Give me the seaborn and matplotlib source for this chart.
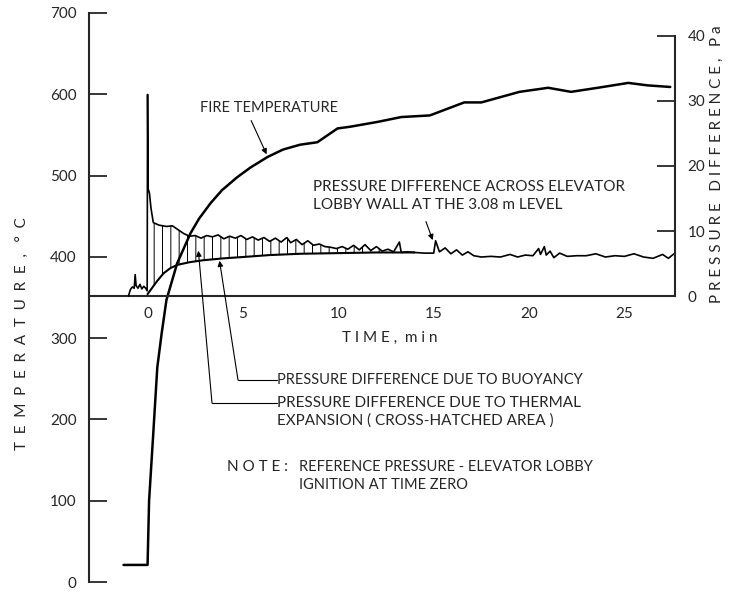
import numpy as np
import pandas as pd
import seaborn as sns
import matplotlib.pyplot as plt
from matplotlib.lines import Line2D

# Seaborn styling
sns.set_style("white")
plt.rcParams['font.family'] = ['Lato', 'DejaVu Sans']
plt.rcParams['hatch.linewidth'] = 0.7

# Fire temperature (left axis, deg C)
fire_time = [-1.26, 0.0, 0.08, 0.3, 0.51, 0.74, 0.99, 1.55, 2.25, 2.7,
             3.3, 3.9, 4.7, 5.4, 6.3, 7.1, 8.0, 8.9, 9.96, 10.6, 12.05, 13.3, 14.8,
             15.7, 16.6, 17.5, 19.5, 21.0, 22.2, 23.6, 25.2, 26.2, 27.4]
fire_temp = [21, 21, 100, 183, 264, 306, 347, 392, 429, 447,
             466, 482, 498, 510, 523, 532, 538, 541, 558, 560, 566, 572, 574,
             582, 590, 590, 603, 608, 603, 608, 614, 611, 609]

# Pressure difference across elevator lobby wall (right axis, Pa)
press_time = [-1.0, -0.9, -0.8, -0.7, -0.65, -0.6, -0.5, -0.4, -0.3, -0.2, -0.1, -0.02,
              0.0, 0.03, 0.1, 0.18, 0.3, 0.6, 1.0, 1.3, 1.6, 1.9, 2.2, 2.5, 2.8,
              3.1, 3.4, 3.7, 4.0, 4.3, 4.6, 4.9, 5.2, 5.5, 5.8, 6.1, 6.4, 6.7, 7.0,
              7.3, 7.5, 7.8, 8.1, 8.4, 8.7, 9.0, 9.3, 9.6, 9.9, 10.2, 10.5, 10.8,
              11.1, 11.4, 11.7, 12.0, 12.3, 12.6, 12.9, 13.2, 13.3, 13.6, 14.0,
              14.5, 15.0, 15.1, 15.3, 15.6, 15.9, 16.2, 16.5, 16.8, 17.1, 17.5,
              18.0, 18.5, 19.0, 19.4, 19.8, 20.2, 20.5, 20.6, 20.8, 20.9, 21.1,
              21.3, 21.6, 22.0, 22.5, 23.0, 23.5, 24.0, 24.5, 25.0, 25.5, 26.0,
              26.5, 27.0, 27.3, 27.6]
press_pa = [0.0, 1.0, 1.4, 1.2, 3.3, 1.6, 1.2, 1.8, 1.1, 1.5, 1.2, 0.8,
            31.0, 16.5, 15.8, 13.5, 11.3, 10.9, 10.7, 10.8, 10.2, 9.6, 9.2, 9.3, 8.9,
            9.3, 9.1, 9.4, 8.8, 9.2, 8.9, 9.3, 8.7, 9.1, 8.6, 9.0, 8.4, 8.9, 8.3,
            9.0, 8.2, 8.7, 7.9, 8.5, 7.8, 8.0, 7.6, 7.5, 7.3, 7.6, 7.2, 7.8,
            7.1, 7.9, 7.0, 7.6, 6.9, 7.2, 6.8, 8.3, 6.7, 6.8, 6.7,
            6.6, 6.6, 8.5, 6.8, 7.4, 6.5, 7.1, 6.3, 6.8, 6.2, 6.0,
            6.1, 6.0, 6.4, 6.0, 6.3, 6.2, 7.3, 6.4, 7.6, 6.3, 6.9,
            5.9, 6.6, 6.1, 6.2, 6.2, 6.5, 6.0, 6.2, 6.1, 6.5, 6.0,
            5.8, 6.4, 5.8, 6.5]

# Pressure difference due to buoyancy (Pa)
buoy_time = [0.0, 0.3, 0.5, 0.84, 1.2, 1.57, 2.2, 2.9, 4.0, 5.0, 6.4, 8.0, 10.0, 12.0, 14.0]
buoy_pa = [0.3, 1.5, 2.3, 3.5, 4.3, 4.8, 5.2, 5.5, 5.8, 6.0, 6.3, 6.5, 6.6, 6.7, 6.7]

time_ticks = [0, 5, 10, 15, 20, 25]
temp_ticks = [0, 100, 200, 300, 400, 500, 600, 700]
press_ticks = [0, 10, 20, 30, 40]

# axis matching: 0 Pa sits at 351.8 C, 1 Pa = 8 C
T0, C_PER_PA = 351.8, 8.0

W, H = 729, 593
fig = plt.figure(figsize=(W / 100, H / 100), dpi=100)


def fxy(px, py):
    # pixel position (from top-left) -> figure fraction
    return (px / W, 1 - py / H)


ax1 = fig.add_axes([89 / W, 11 / H, (675 - 89) / W, (582 - 13) / H])
ax2 = ax1.twinx()

sns.lineplot(x=fire_time, y=fire_temp, ax=ax1, color="black", linewidth=1.8,
             estimator=None, sort=False)
sns.lineplot(x=press_time, y=press_pa, ax=ax2, color="black", linewidth=1.2,
             estimator=None, sort=False)
sns.lineplot(x=buoy_time, y=buoy_pa, ax=ax2, color="black", linewidth=1.5,
             estimator=None, sort=False)

# cross-hatched area between buoyancy and measured pressure
pt = np.array(press_time)
sel = (pt >= 0.03) & (pt <= 12.3)
lower = np.interp(pt[sel], buoy_time, buoy_pa)
ax2.fill_between(pt[sel], lower, np.array(press_pa)[sel], facecolor="none",
                 edgecolor="black", hatch="||", linewidth=0)

ax1.set_xlim(-3.07, 27.65)
ax1.set_ylim(0, 700)
ax2.set_ylim(-T0 / C_PER_PA, (700 - T0) / C_PER_PA)

for a in (ax1, ax2):
    for s in a.spines.values():
        s.set_visible(False)
        s.set_linewidth(1.5)
    a.set_xlabel("")
    a.set_ylabel("")

ax1.spines["left"].set_visible(True)
ax1.spines["bottom"].set_visible(True)
ax1.spines["bottom"].set_position(("data", T0))
ax2.spines["right"].set_visible(True)
ax2.spines["right"].set_bounds(0, 40)

ax1.set_xticks(time_ticks)
ax1.set_yticks(temp_ticks)
ax2.set_yticks(press_ticks)
ax1.tick_params(axis="x", direction="in", length=11, width=1.2, pad=8, labelsize=11)
ax1.tick_params(axis="y", direction="in", length=13, width=1.3, pad=9, labelsize=11)
ax2.tick_params(axis="y", direction="in", length=13, width=1.3, pad=9, labelsize=11)

# axis titles
fig.text(*fxy(22, 334), "  ".join("TEMPERATURE,") + "   °  C", rotation=90,
         ha="center", va="center", fontsize=11)
fig.text(*fxy(717, 164), " ".join("PRESSURE") + "   " + " ".join("DIFFERENCE,") + "   P a",
         rotation=90, ha="center", va="center", fontsize=11)
fig.text(*fxy(390, 338), " ".join("TIME,") + "  m i n", ha="center", va="center", fontsize=11)

# annotations
fs = 11
fig.text(*fxy(200, 108), "FIRE TEMPERATURE", ha="left", va="center", fontsize=10.5)
ax1.annotate("", xy=(6.3, 523), xycoords="data", xytext=fxy(250, 118),
             textcoords="figure fraction",
             arrowprops=dict(arrowstyle="-|>", lw=0.8, color="black", mutation_scale=8))

fig.text(*fxy(313, 196), "PRESSURE DIFFERENCE ACROSS ELEVATOR\nLOBBY WALL AT THE 3.08 m LEVEL",
         ha="left", va="center", fontsize=fs, linespacing=1.4)
ax2.annotate("", xy=(15.0, 8.2), xycoords="data", xytext=fxy(425, 219),
             textcoords="figure fraction",
             arrowprops=dict(arrowstyle="-|>", lw=0.8, color="black", mutation_scale=8))

fig.text(*fxy(277, 380), "PRESSURE DIFFERENCE DUE TO BUOYANCY", ha="left", va="center", fontsize=10.5)
fig.add_artist(Line2D([238 / W, 277 / W], [1 - 380 / H, 1 - 380 / H],
                      transform=fig.transFigure, lw=0.8, color="black"))
ax2.annotate("", xy=(3.75, 5.85), xycoords="data", xytext=fxy(238, 380),
             textcoords="figure fraction",
             arrowprops=dict(arrowstyle="-|>", lw=0.8, color="black", mutation_scale=8,
                             shrinkA=0))

fig.text(*fxy(277, 412), "PRESSURE DIFFERENCE DUE TO THERMAL\nEXPANSION ( CROSS-HATCHED AREA )",
         ha="left", va="center", fontsize=fs, linespacing=1.3)
fig.add_artist(Line2D([212 / W, 277 / W], [1 - 403 / H, 1 - 403 / H],
                      transform=fig.transFigure, lw=0.8, color="black"))
ax2.annotate("", xy=(2.65, 7.4), xycoords="data", xytext=fxy(212, 403),
             textcoords="figure fraction",
             arrowprops=dict(arrowstyle="-|>", lw=0.8, color="black", mutation_scale=8,
                             shrinkA=0))

fig.text(*fxy(227, 467), " ".join("NOTE:"), ha="left", va="center", fontsize=11)
fig.text(*fxy(299, 476), "REFERENCE PRESSURE - ELEVATOR LOBBY\nIGNITION AT TIME ZERO",
         ha="left", va="center", fontsize=10.5, linespacing=1.3)

plt.savefig("out.png", dpi=100)
